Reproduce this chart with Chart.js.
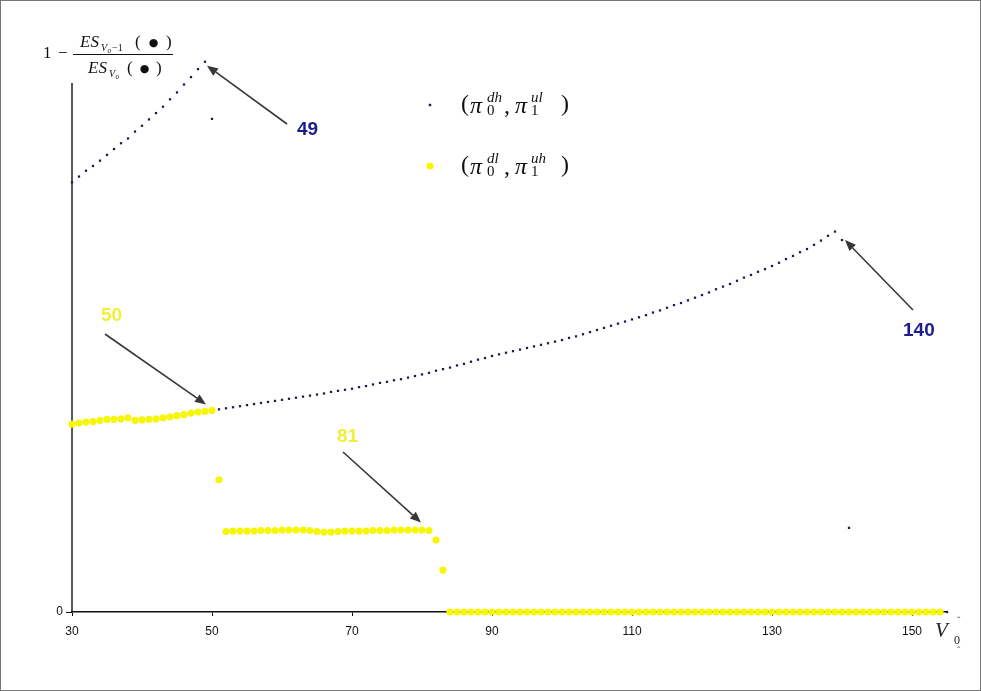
<!DOCTYPE html>
<html>
<head>
<meta charset="utf-8">
<title>Relative change of expected surplus</title>
<script src="https://cdn.jsdelivr.net/npm/chart.js@4/dist/chart.umd.min.js"></script>
<style>
  html, body { margin: 0; padding: 0; background: #fff; }
  canvas { display: block; }
</style>
</head>
<body>
<canvas id="c" width="981" height="691"></canvas>
<script>
// V0 values on the horizontal axis
const V0 = [
  30,31,32,33,34,35,36,37,38,39,
  40,41,42,43,44,45,46,47,48,49,
  50,51,52,53,54,55,56,57,58,59,
  60,61,62,63,64,65,66,67,68,69,
  70,71,72,73,74,75,76,77,78,79,
  80,81,82,83,84,85,86,87,88,89,
  90,91,92,93,94,95,96,97,98,99,
  100,101,102,103,104,105,106,107,108,109,
  110,111,112,113,114,115,116,117,118,119,
  120,121,122,123,124,125,126,127,128,129,
  130,131,132,133,134,135,136,137,138,139,
  140,141,142,143,144,145,146,147,148,149,
  150,151,152,153,154,155
];

// (pi0^dh, pi1^ul): V0 = 30 .. 155
const seriesDH = [
  0.812,0.823,0.834,0.843,0.853,0.864,0.875,0.886,0.895,0.908,
  0.919,0.931,0.943,0.955,0.969,0.982,0.997,1.011,1.026,1.040,
  0.932,0.383,0.385,0.387,0.389,0.391,0.393,0.395,0.397,0.399,
  0.401,0.403,0.405,0.407,0.409,0.411,0.413,0.416,0.418,0.420,
  0.422,0.425,0.427,0.430,0.433,0.435,0.438,0.440,0.443,0.446,
  0.449,0.452,0.456,0.459,0.462,0.466,0.469,0.473,0.477,0.480,
  0.484,0.487,0.490,0.493,0.496,0.499,0.502,0.505,0.508,0.511,
  0.514,0.518,0.521,0.525,0.529,0.533,0.537,0.541,0.545,0.549,
  0.553,0.557,0.561,0.566,0.570,0.575,0.580,0.584,0.589,0.594,
  0.599,0.604,0.610,0.615,0.620,0.626,0.632,0.637,0.643,0.648,
  0.654,0.660,0.667,0.673,0.680,0.686,0.694,0.702,0.711,0.719,
  0.703,0.159,0,0,0,0,0,0,0,0,
  0,0,0,0,0,0
];

// (pi0^dl, pi1^uh): V0 = 30 .. 154
const seriesDL = [
  0.355,0.357,0.359,0.360,0.362,0.364,0.364,0.365,0.367,0.362,
  0.363,0.364,0.365,0.367,0.369,0.371,0.373,0.376,0.378,0.379,
  0.381,0.250,0.152,0.153,0.153,0.153,0.153,0.154,0.154,0.154,
  0.155,0.155,0.155,0.155,0.154,0.152,0.151,0.151,0.152,0.153,
  0.153,0.153,0.153,0.154,0.154,0.154,0.155,0.155,0.155,0.155,
  0.155,0.154,0.136,0.079,0,0,0,0,0,0,
  0,0,0,0,0,0,0,0,0,0,
  0,0,0,0,0,0,0,0,0,0,
  0,0,0,0,0,0,0,0,0,0,
  0,0,0,0,0,0,0,0,0,0,
  0,0,0,0,0,0,0,0,0,0,
  0,0,0,0,0,0,0,0,0,0,
  0,0,0,0,0
];

const xTicks = [30, 50, 70, 90, 110, 130, 150];
const yTicks = [0];
const yAxisTop = 1.0;

// callouts: label, colour, series and V0 the arrow points at
const callouts = [
  { text: '49',  color: '#1c1c8e', series: seriesDH, v: 49,  lx: 297, ly: 130, sx: 287, sy: 124, dx: 2,  dy: 4 },
  { text: '140', color: '#1c1c8e', series: seriesDH, v: 140, lx: 903, ly: 331, sx: 913, sy: 310, dx: 3,  dy: 0 },
  { text: '50',  color: '#f0f038', series: seriesDL, v: 50,  lx: 101, ly: 316, sx: 105, sy: 334, dx: -6, dy: -6 },
  { text: '81',  color: '#f0f038', series: seriesDL, v: 81,  lx: 337, ly: 437, sx: 343, sy: 452, dx: -8, dy: -8 }
];

const DARK = '#1c1c48';
const YELLOW = '#f6f60c';
const SERIF = '"Liberation Serif", "DejaVu Serif", serif';
const SANS = '"Liberation Sans", Arial, sans-serif';

function pts(values) {
  return values.map((y, i) => ({ x: V0[i], y: y }));
}

function txt(ctx, s, x, y, font, color, baseline, align) {
  ctx.font = font;
  ctx.fillStyle = color || '#000';
  ctx.textAlign = align || 'left';
  ctx.textBaseline = baseline || 'alphabetic';
  ctx.fillText(s, x, y);
}

function arrow(ctx, x1, y1, x2, y2) {
  const a = Math.atan2(y2 - y1, x2 - x1);
  const L = 11, W = 4.5;
  const bx = x2 - L * Math.cos(a), by = y2 - L * Math.sin(a);
  ctx.strokeStyle = '#383838';
  ctx.lineWidth = 1.6;
  ctx.beginPath();
  ctx.moveTo(x1, y1);
  ctx.lineTo(bx, by);
  ctx.stroke();
  ctx.fillStyle = '#383838';
  ctx.beginPath();
  ctx.moveTo(x2, y2);
  ctx.lineTo(bx + W * Math.sin(a), by - W * Math.cos(a));
  ctx.lineTo(bx - W * Math.sin(a), by + W * Math.cos(a));
  ctx.closePath();
  ctx.fill();
}

// one legend entry: (pi_sub0^supA, pi_sub1^supB)
function legendEntry(ctx, y, supA, supB) {
  const big = '24px ' + SERIF, bigI = 'italic 24px ' + SERIF;
  const small = '15px ' + SERIF, smallI = 'italic 15px ' + SERIF;
  txt(ctx, '(', 461, y, big, '#111', 'middle');
  txt(ctx, '\u03C0', 470, y + 8, bigI, '#111');
  txt(ctx, supA, 487, y - 3, smallI, '#111');
  txt(ctx, '0', 487, y + 10, small, '#111');
  txt(ctx, ',', 504, y + 8, big, '#111');
  txt(ctx, '\u03C0', 515, y + 8, bigI, '#111');
  txt(ctx, supB, 531, y - 3, smallI, '#111');
  txt(ctx, '1', 531, y + 10, small, '#111');
  txt(ctx, ')', 561, y, big, '#111', 'middle');
}

const decorPlugin = {
  id: 'decor',
  beforeDatasetsDraw(chart) {
    const ctx = chart.ctx, ys = chart.scales.y;
    const x = chart.chartArea.left;
    ctx.save();
    ctx.strokeStyle = '#111';
    ctx.lineWidth = 1.4;
    ctx.beginPath();
    ctx.moveTo(x, ys.getPixelForValue(0));
    ctx.lineTo(x, ys.getPixelForValue(yAxisTop));
    ctx.stroke();
    ctx.restore();
  },
  afterDraw(chart) {
    const ctx = chart.ctx, xs = chart.scales.x, ys = chart.scales.y;
    ctx.save();

    // outer frame
    ctx.strokeStyle = '#777';
    ctx.lineWidth = 1;
    ctx.strokeRect(0.5, 0.5, 980, 690);

    // vertical axis title: 1 - ES_{V0-1}(•) / ES_{V0}(•)
    const f17 = '17px ' + SERIF, f17i = 'italic 17px ' + SERIF;
    const f10i = 'italic 10px ' + SERIF, f7 = '7px ' + SERIF, f10 = '10px ' + SERIF;
    const dot = '11px "DejaVu Sans", sans-serif';
    txt(ctx, '1', 43, 58, f17, '#111');
    txt(ctx, '\u2212', 58, 58, f17, '#111');
    ctx.strokeStyle = '#111';
    ctx.lineWidth = 1;
    ctx.beginPath();
    ctx.moveTo(73, 54.5);
    ctx.lineTo(173, 54.5);
    ctx.stroke();
    txt(ctx, 'ES', 80, 47, f17i, '#111');
    txt(ctx, 'V', 101, 51, f10i, '#111');
    txt(ctx, '0', 107.5, 53, f7, '#111');
    txt(ctx, '\u22121', 112, 51, f10, '#111');
    txt(ctx, '(', 135, 47, f17, '#111');
    txt(ctx, '\u25CF', 153.5, 43, dot, '#111', 'middle', 'center');
    txt(ctx, ')', 166, 47, f17, '#111');
    txt(ctx, 'ES', 88, 73, f17i, '#111');
    txt(ctx, 'V', 109, 77, f10i, '#111');
    txt(ctx, '0', 115.5, 79, f7, '#111');
    txt(ctx, '(', 127, 73, f17, '#111');
    txt(ctx, '\u25CF', 144.5, 69, dot, '#111', 'middle', 'center');
    txt(ctx, ')', 156, 73, f17, '#111');

    // horizontal axis title V_0
    txt(ctx, 'V', 935, 637, 'italic 21px ' + SERIF, '#222');
    txt(ctx, '0', 954, 644, '12px ' + SERIF, '#222');
    txt(ctx, '\u02C7', 957, 624, '10px ' + SERIF, '#444');
    txt(ctx, '\u02C6', 957, 654, '10px ' + SERIF, '#444');

    // legend
    const dsDH = chart.data.datasets[1], dsDL = chart.data.datasets[0];
    Chart.helpers.drawPoint(ctx, {
      pointStyle: dsDH.pointStyle, radius: dsDH.pointRadius, borderWidth: 0
    }, 430, 105);
    ctx.fillStyle = dsDH.backgroundColor;
    ctx.fill();
    ctx.fillStyle = dsDL.backgroundColor;
    ctx.beginPath();
    ctx.arc(430, 166, dsDL.pointRadius, 0, Math.PI * 2);
    ctx.fill();
    legendEntry(ctx, 105, 'dh', 'ul');
    legendEntry(ctx, 166, 'dl', 'uh');

    // callouts
    callouts.forEach(c => {
      const i = V0.indexOf(c.v);
      const tx = xs.getPixelForValue(c.v) + c.dx;
      const ty = ys.getPixelForValue(c.series[i]) + c.dy;
      arrow(ctx, c.sx, c.sy, tx, ty);
      txt(ctx, c.text, c.lx, c.ly, 'bold 19px ' + SANS, c.color, 'middle');
    });

    ctx.restore();
  }
};

new Chart(document.getElementById('c'), {
  type: 'scatter',
  data: {
    datasets: [
      {
        label: '(\u03C0\u2080\u1D48\u02E1, \u03C0\u2081\u1D58\u02B0)',
        data: pts(seriesDL),
        pointStyle: 'circle',
        pointRadius: 3.6,
        pointBorderWidth: 0,
        backgroundColor: YELLOW,
        borderColor: YELLOW,
        clip: false
      },
      {
        label: '(\u03C0\u2080\u1D48\u02B0, \u03C0\u2081\u1D58\u02E1)',
        data: pts(seriesDH),
        pointStyle: 'rect',
        pointRadius: 1.6,
        pointBorderWidth: 0,
        backgroundColor: DARK,
        borderColor: DARK,
        clip: false
      }
    ]
  },
  options: {
    responsive: false,
    animation: false,
    devicePixelRatio: 1,
    layout: { padding: { left: 0, right: 34, top: 30, bottom: 0 } },
    plugins: {
      legend: { display: false },
      tooltip: { enabled: false }
    },
    scales: {
      x: {
        type: 'linear',
        min: 30,
        max: 155,
        afterBuildTicks: s => { s.ticks = xTicks.map(v => ({ value: v })); },
        afterFit: s => { s.height = 79; },
        grid: { display: true, drawOnChartArea: false, drawTicks: true, tickLength: 4, color: '#111', lineWidth: 1 },
        border: { display: true, color: '#111', width: 1.4 },
        ticks: {
          autoSkip: false, maxRotation: 0, padding: 8,
          color: '#111', font: { family: SANS, size: 12 },
          callback: v => String(v)
        }
      },
      y: {
        type: 'linear',
        min: 0,
        max: 1.1,
        afterBuildTicks: s => { s.ticks = yTicks.map(v => ({ value: v })); },
        afterFit: s => { s.width = 72; },
        grid: { display: true, drawOnChartArea: false, drawTicks: true, tickLength: 6, color: '#111', lineWidth: 1 },
        border: { display: false },
        ticks: {
          padding: 3, color: '#111', font: { family: SANS, size: 12 },
          callback: v => String(v)
        }
      }
    }
  },
  plugins: [decorPlugin]
});
</script>
</body>
</html>
